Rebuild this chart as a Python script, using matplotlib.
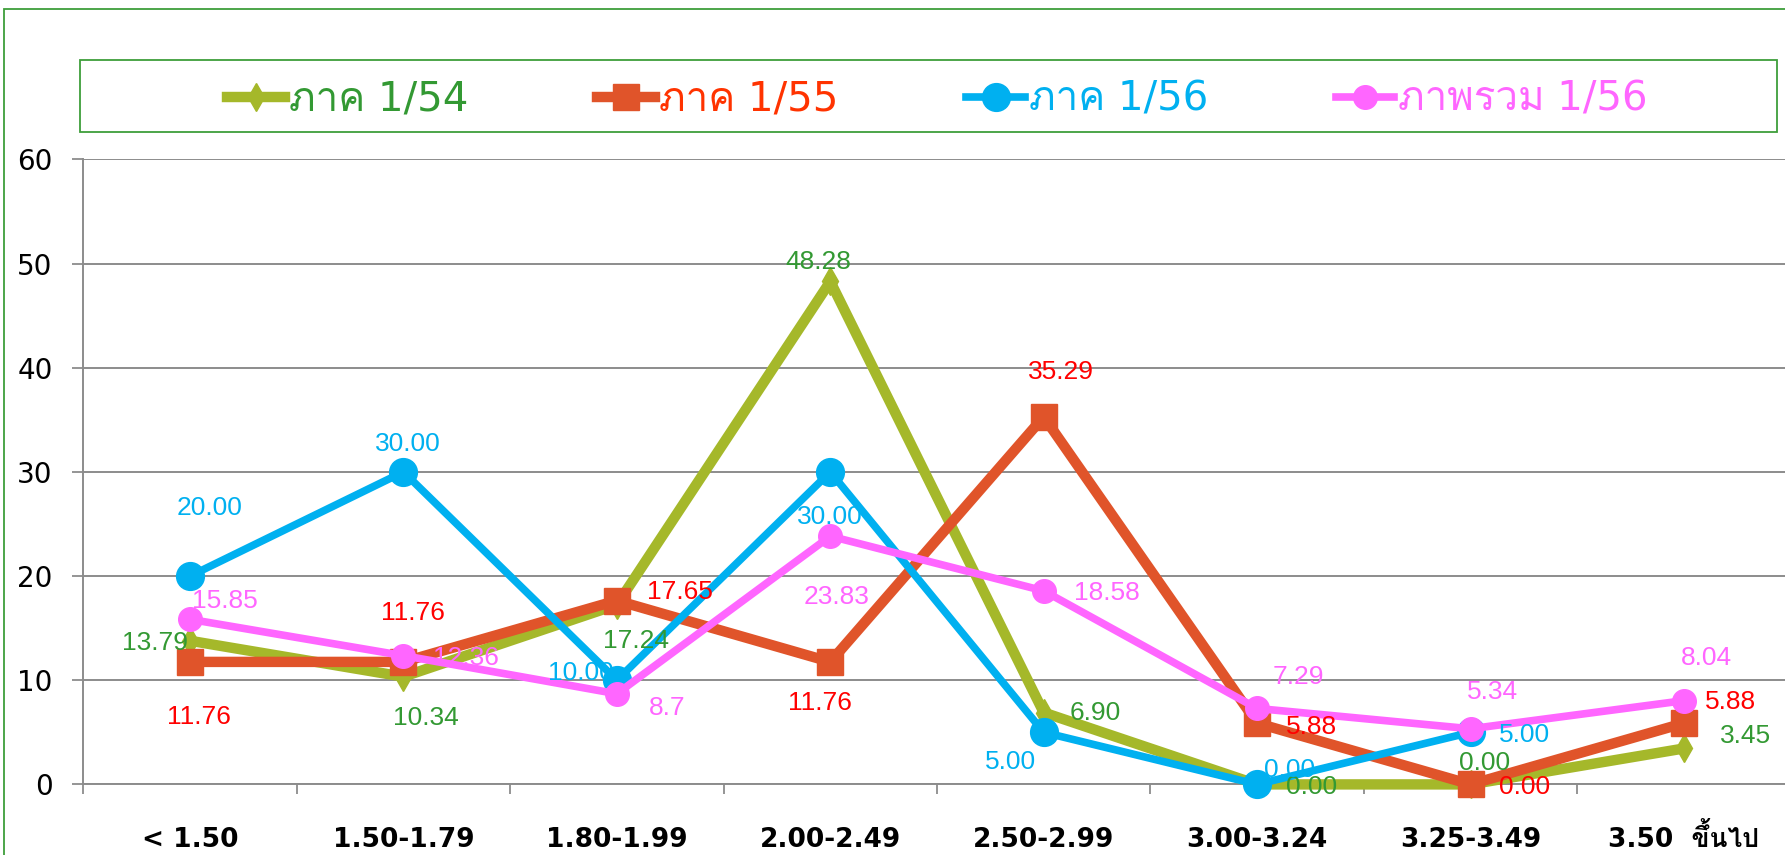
import numpy as np
import matplotlib.pyplot as plt
from matplotlib import font_manager
from matplotlib.ft2font import FT2Font
from matplotlib.patches import Rectangle

# look for an installed upright font that has Thai glyphs
prefer = ['Waree', 'Loma', 'Garuda', 'Noto Sans Thai Looped', 'Noto Sans Thai',
          'Tlwg Typo', 'Umpush', 'Sawasdee', 'Norasi', 'Kinnari']
found = []
for f in font_manager.fontManager.ttflist:
    if f.style != 'normal':
        continue
    try:
        if 0x0E20 in FT2Font(f.fname).get_charmap():
            found.append(f.name)
    except Exception:
        pass
thai = None
for p in prefer:
    if p in found:
        thai = p
        break
if thai is None and found:
    thai = found[0]
extra = [thai] if thai else []
plt.rcParams['font.family'] = ['Liberation Sans'] + extra + ['DejaVu Sans']

# data
categories = ['< 1.50', '1.50-1.79', '1.80-1.99', '2.00-2.49',
              '2.50-2.99', '3.00-3.24', '3.25-3.49', '3.50  ขึ้นไป']
names = ['ภาค 1/54', 'ภาค 1/55', 'ภาค 1/56', 'ภาพรวม 1/56']
s54 = [13.79, 10.34, 17.24, 48.28, 6.90, 0.00, 0.00, 3.45]
s55 = [11.76, 11.76, 17.65, 11.76, 35.29, 5.88, 0.00, 5.88]
s56 = [20.00, 30.00, 10.00, 30.00, 5.00, 0.00, 5.00, np.nan]
sall = [15.85, 12.36, 8.7, 23.83, 18.58, 7.29, 5.34, 8.04]
lab54 = ['13.79', '10.34', '17.24', '48.28', '6.90', '0.00', '0.00', '3.45']
lab55 = ['11.76', '11.76', '17.65', '11.76', '35.29', '5.88', '0.00', '5.88']
lab56 = ['20.00', '30.00', '10.00', '30.00', '5.00', '0.00', '5.00', '']
laball = ['15.85', '12.36', '8.7', '23.83', '18.58', '7.29', '5.34', '8.04']

# label offsets in pixels (dx, dy)
off54 = [(-35, -2), (22, -41), (19, -36), (-12, 19), (52, 0), (54, -3), (14, 21), (62, 12)]
off55 = [(9, -55), (9, 49), (63, 9), (-10, -41), (17, 45), (54, -4), (54, -3), (47, 21)]
off56 = [(20, 68), (4, 28), (-36, 7), (0, -45), (-33, -30), (32, 14), (54, -3), (0, 0)]
offall = [(35, 18), (62, -2), (50, -14), (6, -61), (63, -2), (41, 31), (22, 37), (22, 43)]

W, H = 1785, 855
fig = plt.figure(figsize=(W / 100, H / 100), dpi=100)
ax = fig.add_axes([83.3 / W, 1 - 784.4 / H, (1790.7 - 83.3) / W, (784.4 - 159.4) / H])

x = np.arange(len(categories))
series = [
    (s54, lab54, off54, '#A5B82A', '#339933', '#339933', 'd', 14, 7.5),
    (s55, lab55, off55, '#E0542A', '#FF0000', '#FF3300', 's', 19, 7.5),
    (s56, lab56, off56, '#00B0F0', '#00B0F0', '#00B0F0', 'o', 20, 5.5),
    (sall, laball, offall, '#FF66FF', '#FF66FF', '#FF66FF', 'o', 17, 5.5),
]

handles = []
for i, (vals, labs, offs, c, tc, lc, m, ms, lw) in enumerate(series):
    h, = ax.plot(x, vals, color=c, lw=lw, marker=m, ms=ms, mec=c, mfc=c,
                 label=names[i], zorder=3 + i, clip_on=False)
    handles.append(h)
for i, (vals, labs, offs, c, tc, lc, m, ms, lw) in enumerate(series):
    for xi, v, t, o in zip(x, vals, labs, offs):
        if t == '':
            continue
        ax.annotate(t, (xi, v), xytext=o, textcoords='offset pixels',
                    ha='center', va='center', color=tc, fontsize=19,
                    zorder=10, annotation_clip=False)

ax.set_xlim(-0.5, len(categories) - 0.5)
ax.set_ylim(0, 60)
ax.set_yticks(range(0, 61, 10))
ax.set_yticklabels([str(v) for v in range(0, 61, 10)], family='DejaVu Sans', fontsize=20)
ax.set_xticks(x)
ax.set_xticklabels(categories, fontsize=19, fontweight='bold',
                   family=['DejaVu Sans'] + extra)
for t in ax.get_xticklabels():
    t.set_verticalalignment('baseline')
ax.set_xticks(np.arange(len(categories) + 1) - 0.5, minor=True)
ax.tick_params(axis='x', which='major', length=0, pad=45)
ax.tick_params(axis='x', which='minor', length=7, width=1.3, color='#8c8c8c')
ax.tick_params(axis='y', length=8, width=1.3, color='#8c8c8c', pad=14)
ax.grid(axis='y', color='#8c8c8c', lw=1.4)
ax.set_axisbelow(True)
for s in ['top', 'right']:
    ax.spines[s].set_visible(False)
for s in ['left', 'bottom']:
    ax.spines[s].set_color('#8c8c8c')
    ax.spines[s].set_linewidth(1.4)

# legend
leg = fig.legend(handles=handles, loc='center', ncol=4, mode='expand', frameon=False,
                 bbox_to_anchor=(227 / W, 1 - 125 / H, (1648 - 227) / W, 50 / H),
                 handlelength=1.45, handletextpad=0.1,
                 borderpad=0, borderaxespad=0,
                 prop={'family': ['DejaVu Sans'] + extra, 'size': 29})
for t, s in zip(leg.get_texts(), series):
    t.set_color(s[5])

green = '#3E9E3A'
fig.patches.append(Rectangle((80 / W, 1 - 132 / H), (1777 - 80) / W, 72 / H,
                             transform=fig.transFigure, fill=False, ec=green, lw=1.3))
fig.patches.append(Rectangle((3.7 / W, -0.2), 2, 1.2 - 9.5 / H,
                             transform=fig.transFigure, fill=False, ec=green, lw=1.3))

fig.savefig('out.png', dpi=100)
